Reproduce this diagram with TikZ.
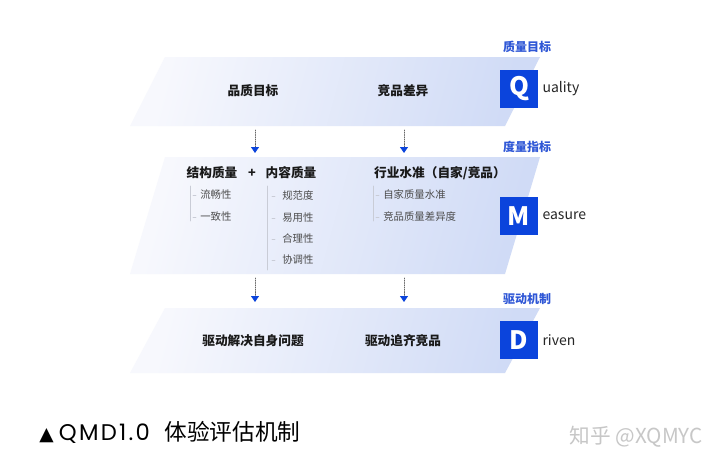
\documentclass[tikz,border=0pt]{standalone}
\usepackage{fontspec}
\setmainfont{Noto Sans CJK SC}
\newfontfamily\symfont{DejaVu Sans}
\newfontfamily\capfont[LetterSpace=10]{Poppins}
\usetikzlibrary{arrows.meta}
\definecolor{qblue}{HTML}{0B44DC}
\definecolor{tagblue}{HTML}{2F57D6}
\definecolor{bandL}{HTML}{F7F8FD}
\definecolor{bandR}{HTML}{D0DBF6}
\definecolor{railgray}{HTML}{C9CCD6}
\tikzset{
  band/.style={left color=bandL, right color=bandR, shading angle=75},
  head/.style={font=\fontsize{9.5}{10}\selectfont\bfseries, text=black!90},
  item/.style={font=\fontsize{7.8}{9}\selectfont, text=black!70, anchor=west, inner sep=0pt},
  tag/.style={font=\fontsize{9}{10}\selectfont\bfseries, text=tagblue},
  letterbox/.style={fill=qblue, text=white, minimum size=28.5pt, inner sep=0pt,
    font=\fontsize{19}{19}\selectfont\bfseries},
  word/.style={font=\fontsize{10.5}{11}\selectfont, text=black!85, anchor=west, inner sep=0pt},
  dotarrow/.style={densely dotted, line width=.7pt, draw=black!60,
    -{Triangle[width=6pt,length=4.5pt,color=qblue,fill=qblue]}},
  rail/.style={draw=railgray, line width=.4pt},
}
\begin{document}
\begin{tikzpicture}[x=0.75pt, y=-0.75pt, line join=round, line cap=round]
\useasboundingbox[fill=white] (0,0) rectangle (720,471);
\def\off{35} % Neigung der Baender
% Baender
\shade[band] (165,57) -- (540,57) -- (540-\off,126) -- (165-\off,126) -- cycle;
\shade[band] (165,157) -- (540,157) -- (540-\off,274) -- (165-\off,274) -- cycle;
\shade[band] (165,308) -- (540,308) -- (540-\off,373) -- (165-\off,373) -- cycle;
% Q
\node[tag] (tq) at (527,47) {质量目标};
\node[letterbox] (Q) at (519,89) {Q};
\node[word] (wq) at ([xshift=3pt]Q.east) {uality};
\node[head] (q1) at (253,91) {品质目标};
\node[head] (q2) at (403,91) {竞品差异};
% M
\node[tag] (tm) at (527,147) {度量指标};
\node[letterbox] (M) at (519,216) {M};
\node[word] (wm) at ([xshift=3pt]M.east) {easure};
\node[head] (m1) at (212,173) {结构质量};
\node[head] (plus) at (252,173) {+};
\node[head] (m2) at (291,173) {内容质量};
\node[head] (m3) at (440,173) {行业水准（自家/竞品）};
\draw[rail] (190,186) -- (190,221);
\draw[rail] (267,186) -- (267,270);
\draw[rail] (373,186) -- (373,221);
\foreach \y/\t [count=\i] in {195/流畅性, 217/一致性}{
  \draw[rail] (193,\y) -- (196,\y);
  \node[item] (s\i) at (200,\y) {\t};
}
\foreach \y/\t [count=\i] in {196/规范度, 218/易用性, 239/合理性, 260/协调性}{
  \draw[rail] (272,\y) -- (275,\y);
  \node[item] (c\i) at (282,\y) {\t};
}
\foreach \y/\t [count=\i] in {195/自家质量水准, 217/竞品质量差异度}{
  \draw[rail] (376,\y) -- (379,\y);
  \node[item] (h\i) at (383,\y) {\t};
}
% D
\node[tag] (td) at (527,299) {驱动机制};
\node[letterbox] (D) at (519,340) {D};
\node[word] (wd) at ([xshift=3pt]D.east) {riven};
\node[head] (d1) at (253,341) {驱动解决自身问题};
\node[head] (d2) at (403,341) {驱动追齐竞品};
% Pfeile
\foreach \x/\n in {255/l, 404/r}{
  \coordinate (a\n) at (\x,130); \coordinate (b\n) at (\x,153);
  \coordinate (c\n) at (\x,278); \coordinate (d\n) at (\x,302);
  \draw[dotarrow] (a\n) -- (b\n);
  \draw[dotarrow] (c\n) -- (d\n);
}
% Unterschrift
\node[anchor=west, inner sep=0pt, font=\fontsize{17}{17}\selectfont] (cap) at (39,432)
  {{\symfont\fontsize{14}{14}\selectfont ▲}\hspace{4pt}{\capfont\fontsize{17}{17}\selectfont QMD1.0}\hspace{11pt}体验评估机制};
\node[anchor=east, inner sep=0pt, text=black!22, font=\fontsize{15.5}{16}\selectfont] (zh) at (703,437) {知乎 @XQMYC};
\end{tikzpicture}
\end{document}
